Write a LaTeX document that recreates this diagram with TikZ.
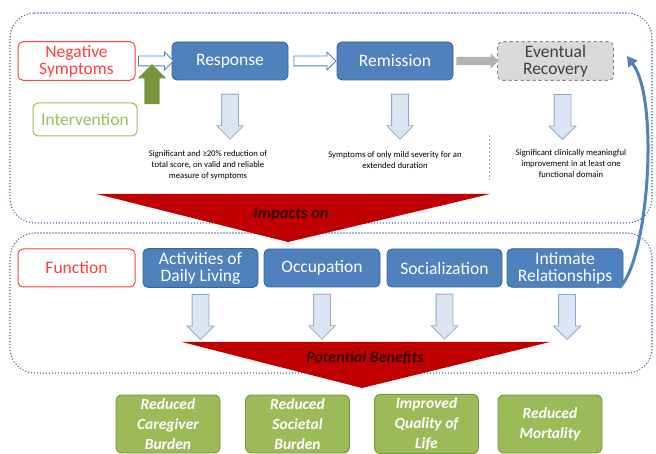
\documentclass[tikz,border=0pt]{standalone}
\usepackage{fontspec}
\setmainfont{Carlito}
\usepackage{xcolor}
\usepackage{tikz}
\usetikzlibrary{calc}
\usetikzlibrary{positioning}
\usetikzlibrary{shapes}
\usetikzlibrary{shapes.arrows}
\usetikzlibrary{arrows.meta}
\definecolor{offblue}{HTML}{4F81BD}
\definecolor{blueline}{HTML}{3A64A0}
\definecolor{dotblue}{HTML}{4A6FA8}
\definecolor{redline}{HTML}{FF4040}
\definecolor{lgreen}{HTML}{9BBB59}
\definecolor{dgreen}{HTML}{77933C}
\definecolor{paleblue}{HTML}{DCE6F2}
\definecolor{arrline}{HTML}{8EA9D3}
\definecolor{darkred}{HTML}{C00000}
\tikzstyle{bluebox}= [draw=blueline, fill=offblue, text=white, line width=0.9pt, rounded corners=5pt, minimum width=116pt, minimum height=38pt, align=center, font=\fontsize{17.5}{17}\selectfont]
\tikzstyle{redbox}= [draw=redline, text=redline, line width=1pt, rounded corners=5pt, minimum width=117pt, minimum height=38pt, align=center, font=\fontsize{17.5}{17}\selectfont]
\tikzstyle{greenbox}= [draw=dgreen, fill=lgreen, text=white, line width=0.9pt, rounded corners=6pt, minimum width=104pt, minimum height=58pt, align=center, font=\fontsize{15.5}{20}\selectfont\bfseries\itshape]
\tikzstyle{downarr}= [single arrow, draw=arrline, fill=paleblue, line width=0.8pt, rotate=-90, minimum height=45pt, inner xsep=0pt, inner ysep=8pt, single arrow head extend=5pt]
\tikzstyle{hollowarr}= [single arrow, draw=offblue, fill=white, line width=0.8pt, inner xsep=0pt, inner ysep=4.5pt, single arrow head extend=4pt]
\tikzstyle{note}= [align=center, font=\fontsize{8.7}{11}\selectfont]
\tikzstyle{dotline}= [dotblue, line width=1.6pt, dash pattern=on 0pt off 3pt, line cap=round, rounded corners=25pt]

\begin{document}
\begin{tikzpicture}[x=1pt, y=-1pt]
  \useasboundingbox (0,0) rectangle (656,454);

  \draw[dotline] (10,13) -- (652,13) -- (652,223) -- (10,223) -- cycle;
  \draw[dotline] (10,233) -- (652,233) -- (652,373) -- (10,373) -- cycle;

  \node[redbox] (neg) at (76.5,61) {Negative\\Symptoms};
  \node[bluebox] (resp) at (230,61) {Response};
  \node[bluebox] (remi) at (395,61) {Remission};
  \node[bluebox, draw=gray, dashed, fill=gray!30, text=black!75] (recov) at (555.5,61) {Eventual\\Recovery};
  \node[redbox, draw=lgreen, text=lgreen, minimum width=104pt, minimum height=33pt] (interv) at (85,119.5) {Intervention};

  \node[hollowarr, minimum height=35pt] (a1) at ($(neg.east)!0.5!(resp.west)$) {};
  \node[hollowarr, minimum height=42pt] (a2) at ($(resp.east)!0.5!(remi.west)$) {};
  \node[single arrow, fill=gray!60, minimum height=42pt, inner xsep=0pt, inner ysep=4pt, single arrow head extend=3.5pt] (a3) at ($(remi.east)!0.5!(recov.west)$) {};
  \node[single arrow, fill=dgreen, rotate=90, minimum height=40pt, inner xsep=0pt, inner ysep=7.5pt, single arrow head extend=6.5pt] (up) at (152,88) {};

  \node[downarr] (d1) at ($(resp.south)+(0,32)$) {};
  \node[downarr] (d2) at ($(remi.south)+(5,32)$) {};
  \node[downarr] (d3) at ($(recov.south)+(7,32)$) {};

  \node[note] (n1) at (208,165) {Significant and ≥20\% reduction of\\total score, on valid and reliable\\measure of symptoms};
  \node[note] (n2) at (395,160) {Symptoms of only mild severity for an\\extended duration};
  \node[note] (n3) at (571,164) {Significant clinically meaningful\\improvement in at least one\\functional domain};
  \coordinate (s1) at (489,135);
  \coordinate (s2) at (489,180);
  \draw[arrline, line width=1pt, dash pattern=on 2pt off 2pt] (s1) -- (s2);

  \fill[darkred] (97,194) -- (490,194) -- (288,242) -- cycle;
  \node[font=\fontsize{16.5}{17}\selectfont\bfseries\itshape, text=black!80!red] (imp) at (291,214) {Impacts on};

  \node[redbox] (func) at (76.5,268) {Function};
  \node[bluebox, minimum width=115pt] (adl) at (200.5,268) {Activities of\\Daily Living};
  \node[bluebox] (occ) at (322,268) {Occupation};
  \node[bluebox, minimum width=115pt] (soc) at (444.5,268) {Socialization};
  \node[bluebox] (intim) at (565,268) {Intimate\\Relationships};

  \node[downarr] (d4) at ($(adl.south)+(0,25)$) {};
  \node[downarr] (d5) at ($(occ.south)+(0,25)$) {};
  \node[downarr] (d6) at ($(soc.south)+(0,25)$) {};
  \node[downarr] (d7) at ($(intim.south)+(2,25)$) {};

  \coordinate (loopend) at ($(recov.east)+(13,-5)$);
  \draw[offblue, line width=3pt, -{Triangle[width=11pt,length=10pt]}] (intim.-20) .. controls (648,262) and (660,100) .. (loopend);

  \fill[darkred] (182,342) -- (550,342) -- (362,388) -- cycle;
  \node[font=\fontsize{16}{17}\selectfont\bfseries\itshape, text=black!80!red] (pot) at (365,358) {Potential Benefits};

  \node[greenbox] (b1) at (168,424) {Reduced\\Caregiver\\Burden};
  \node[greenbox] (b2) at (297.5,424) {Reduced\\Societal\\Burden};
  \node[greenbox] (b3) at (426.5,424) {Improved\\Quality of\\Life};
  \node[greenbox] (b4) at (550,424) {Reduced\\Mortality};
\end{tikzpicture}
\end{document}
